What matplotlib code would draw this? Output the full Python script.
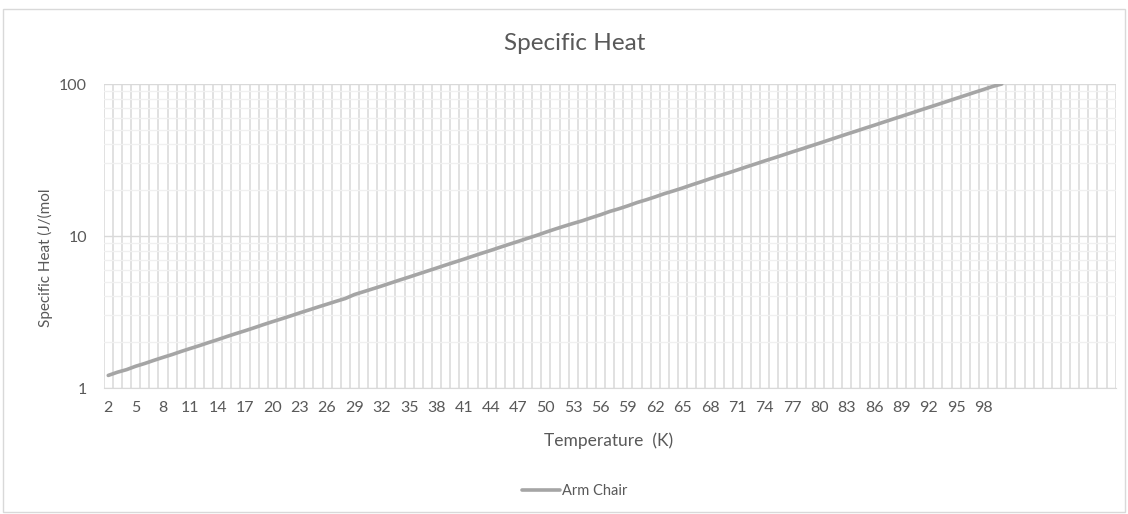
import numpy as np
import matplotlib
matplotlib.use("Agg")
import matplotlib.pyplot as plt
from matplotlib.patches import Rectangle
from matplotlib.ticker import FixedLocator, LogLocator, NullFormatter, FixedFormatter

# temperature categories (K) and the arm chair specific heat values
temps = list(range(2, 101))
arm_chair = [
    1.21, 1.27, 1.32, 1.39, 1.45, 1.52, 1.59, 1.66, 1.74, 1.82,
    1.90, 1.99, 2.08, 2.18, 2.28, 2.38, 2.49, 2.61, 2.73, 2.85,
    2.98, 3.12, 3.26, 3.41, 3.56, 3.72, 3.88, 4.12, 4.30, 4.49,
    4.69, 4.91, 5.14, 5.37, 5.62, 5.88, 6.15, 6.44, 6.73, 7.04,
    7.37, 7.71, 8.06, 8.44, 8.83, 9.23, 9.66, 10.1, 10.6, 11.1,
    11.6, 12.1, 12.6, 13.2, 13.8, 14.5, 15.1, 15.8, 16.6, 17.3,
    18.1, 19.0, 19.8, 20.7, 21.7, 22.7, 23.8, 24.9, 26.0, 27.2,
    28.5, 29.8, 31.2, 32.6, 34.1, 35.7, 37.3, 39.0, 40.8, 42.7,
    44.7, 46.8, 48.9, 51.2, 53.5, 56.0, 58.6, 61.3, 64.1, 67.1,
    70.2, 73.4, 76.8, 80.4, 84.1, 88.0, 92.0, 96.3, 100.0,
]
# the category axis runs on past the data with empty slots
last_category = 112
tick_labels = [str(t) for t in range(2, 99, 3)]

TEXT = "#595959"
GRID = "#d9d9d9"
MINOR = "#f0f0f0"
LINE = "#a5a5a5"

plt.rcParams["font.family"] = ["Lato", "DejaVu Sans"]

W, H = 1128, 514
fig = plt.figure(figsize=(W / 100, H / 100), dpi=100)

# outer chart border
fig.patches.append(Rectangle((3 / W, 2 / H), (W - 6) / W, (H - 11) / H,
                             transform=fig.transFigure, fill=False,
                             edgecolor="#d9d9d9", linewidth=1))

left, right, top, bottom = 103.7, 1115.7, 84, 388
ax = fig.add_axes([left / W, 1 - bottom / H, (right - left) / W, (bottom - top) / H])

ax.plot(temps, arm_chair, color=LINE, linewidth=2.6, solid_capstyle="round",
        label="Arm Chair", zorder=3)

ax.set_yscale("log")
ax.set_ylim(1, 100)
ax.set_xlim(1.5, last_category + 0.5)

# gridlines between categories, labels on every third one
ax.xaxis.set_major_locator(FixedLocator(list(range(2, 99, 3))))
ax.xaxis.set_major_formatter(FixedFormatter(tick_labels))
ax.xaxis.set_minor_locator(FixedLocator(np.arange(1.5, last_category + 1, 1.0)))
ax.grid(True, which="minor", axis="x", color=GRID, linewidth=1.1)

ax.yaxis.set_major_locator(FixedLocator([1, 10, 100]))
ax.yaxis.set_major_formatter(FixedFormatter(["1", "10", "100"]))
ax.yaxis.set_minor_locator(LogLocator(base=10, subs=np.arange(2, 10)))
ax.yaxis.set_minor_formatter(NullFormatter())
ax.grid(True, which="major", axis="y", color=GRID, linewidth=1)
ax.grid(True, which="minor", axis="y", color=MINOR, linewidth=1)
ax.set_axisbelow(True)

for side in ("top", "right", "left"):
    ax.spines[side].set_visible(False)
ax.spines["bottom"].set_color(GRID)
ax.tick_params(which="both", length=0)
ax.tick_params(axis="x", pad=9, labelsize=11.5, labelcolor=TEXT)
ax.tick_params(axis="y", pad=12, labelsize=11.5, labelcolor=TEXT)

fig.text(575 / W, 1 - 43 / H, "Specific Heat", ha="center", va="center",
         fontsize=17.5, color=TEXT)
fig.text(609 / W, 1 - 441 / H, "Temperature  (K)", ha="center", va="center",
         fontsize=12.5, color=TEXT)
fig.text(45 / W, 1 - 258 / H, "Specific Heat (J/(mol", ha="center", va="center",
         rotation=90, fontsize=11, color=TEXT)

leg = fig.legend(loc="center", bbox_to_anchor=(575 / W, 1 - 491 / H), frameon=False,
                 fontsize=10.5, handlelength=2.6, handletextpad=0.15)
for t in leg.get_texts():
    t.set_color(TEXT)

fig.savefig("out.png", dpi=100, facecolor="white")
